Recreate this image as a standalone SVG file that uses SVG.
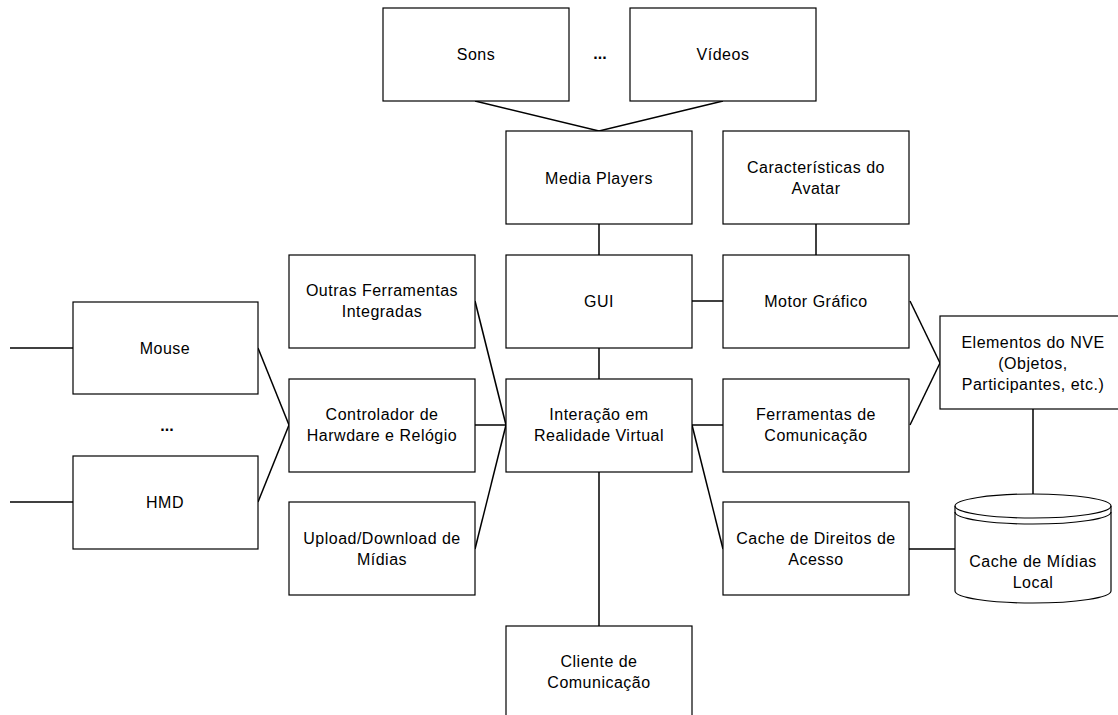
<svg xmlns="http://www.w3.org/2000/svg" width="1118" height="715" viewBox="0 0 1118 715">
  <style>
    .box { fill: #ffffff; stroke: #000000; stroke-width: 1.2; }
    .lbl { font-family: "Liberation Sans", Arial, sans-serif; font-size: 16px; letter-spacing: 0.5px; fill: #000000; text-anchor: middle; }
    .dots { font-family: "Liberation Sans", Arial, sans-serif; font-size: 16px; font-weight: bold; fill: #000000; text-anchor: middle; }
    .conn { fill: none; stroke: #000000; stroke-width: 1.5; }
  </style>
  <rect width="1118" height="715" fill="#ffffff"/>

  <!-- connectors -->
  <g id="connectors">
    <polyline class="conn" points="475,101 599,131 723,101"/>
    <line class="conn" x1="599" y1="224" x2="599" y2="255"/>
    <line class="conn" x1="816" y1="224" x2="816" y2="255"/>
    <line class="conn" x1="692" y1="301" x2="723" y2="301"/>
    <line class="conn" x1="599" y1="348" x2="599" y2="379"/>
    <line class="conn" x1="475" y1="301" x2="506" y2="425"/>
    <line class="conn" x1="475" y1="425" x2="506" y2="425"/>
    <line class="conn" x1="475" y1="549" x2="506" y2="425"/>
    <line class="conn" x1="258" y1="348" x2="289" y2="425"/>
    <line class="conn" x1="258" y1="502" x2="289" y2="425"/>
    <line class="conn" x1="10" y1="348" x2="73" y2="348"/>
    <line class="conn" x1="10" y1="502" x2="73" y2="502"/>
    <line class="conn" x1="692" y1="425" x2="723" y2="425"/>
    <line class="conn" x1="692" y1="425" x2="723" y2="549"/>
    <line class="conn" x1="599" y1="472" x2="599" y2="626"/>
    <line class="conn" x1="910" y1="301" x2="940" y2="363"/>
    <line class="conn" x1="910" y1="425" x2="940" y2="363"/>
    <line class="conn" x1="1033" y1="409" x2="1033" y2="494"/>
    <line class="conn" x1="909" y1="549" x2="955" y2="549"/>
  </g>

  <!-- top row: media types -->
  <g id="sons">
    <rect class="box" x="383" y="8" width="186" height="93"/>
    <text class="lbl" x="476" y="60">Sons</text>
  </g>
  <text class="dots" x="600" y="59">...</text>
  <g id="videos">
    <rect class="box" x="630" y="8" width="186" height="93"/>
    <text class="lbl" x="723" y="60">Vídeos</text>
  </g>

  <!-- second row -->
  <g id="media-players">
    <rect class="box" x="506" y="131" width="186" height="93"/>
    <text class="lbl" x="599" y="184">Media Players</text>
  </g>
  <g id="caracteristicas-avatar">
    <rect class="box" x="723" y="131" width="186" height="93"/>
    <text class="lbl" x="816" y="173">Características do</text>
    <text class="lbl" x="816" y="194">Avatar</text>
  </g>

  <!-- third row -->
  <g id="outras-ferramentas">
    <rect class="box" x="289" y="255" width="186" height="93"/>
    <text class="lbl" x="382" y="296">Outras Ferramentas</text>
    <text class="lbl" x="382" y="317">Integradas</text>
  </g>
  <g id="gui">
    <rect class="box" x="506" y="255" width="186" height="93"/>
    <text class="lbl" x="599" y="307">GUI</text>
  </g>
  <g id="motor-grafico">
    <rect class="box" x="723" y="255" width="186" height="93"/>
    <text class="lbl" x="816" y="307">Motor Gráfico</text>
  </g>

  <!-- input devices -->
  <g id="mouse">
    <rect class="box" x="73" y="302" width="185" height="92"/>
    <text class="lbl" x="165" y="354">Mouse</text>
  </g>
  <text class="dots" x="167" y="431">...</text>
  <g id="hmd">
    <rect class="box" x="73" y="456" width="185" height="93"/>
    <text class="lbl" x="165" y="508">HMD</text>
  </g>

  <!-- fourth row -->
  <g id="controlador-hardware">
    <rect class="box" x="289" y="379" width="186" height="93"/>
    <text class="lbl" x="382" y="420">Controlador de</text>
    <text class="lbl" x="382" y="441">Harwdare e Relógio</text>
  </g>
  <g id="interacao-rv">
    <rect class="box" x="506" y="379" width="186" height="93"/>
    <text class="lbl" x="599" y="420">Interação em</text>
    <text class="lbl" x="599" y="441">Realidade Virtual</text>
  </g>
  <g id="ferramentas-comunicacao">
    <rect class="box" x="723" y="379" width="186" height="93"/>
    <text class="lbl" x="816" y="420">Ferramentas de</text>
    <text class="lbl" x="816" y="441">Comunicação</text>
  </g>

  <!-- NVE elements -->
  <g id="elementos-nve">
    <rect class="box" x="940" y="316" width="186" height="93"/>
    <text class="lbl" x="1033" y="348">Elementos do NVE</text>
    <text class="lbl" x="1033" y="369">(Objetos,</text>
    <text class="lbl" x="1033" y="390">Participantes, etc.)</text>
  </g>

  <!-- fifth row -->
  <g id="upload-download">
    <rect class="box" x="289" y="502" width="186" height="93"/>
    <text class="lbl" x="382" y="544">Upload/Download de</text>
    <text class="lbl" x="382" y="565">Mídias</text>
  </g>
  <g id="cache-direitos">
    <rect class="box" x="723" y="502" width="186" height="93"/>
    <text class="lbl" x="816" y="544">Cache de Direitos de</text>
    <text class="lbl" x="816" y="565">Acesso</text>
  </g>

  <!-- local media cache (cylinder) -->
  <g id="cache-midias-local">
    <path class="box" d="M955,506 A78,12 0 0 1 1111,506 L1111,591 A78,12 0 0 1 955,591 Z"/>
    <path fill="none" stroke="#000" stroke-width="1.2" d="M955,506 A78,12 0 0 0 1111,506"/>
    <path fill="none" stroke="#000" stroke-width="1.2" d="M955,512 A78,12 0 0 0 1111,512"/>
    <text class="lbl" x="1033" y="567">Cache de Mídias</text>
    <text class="lbl" x="1033" y="588">Local</text>
  </g>

  <!-- bottom -->
  <g id="cliente-comunicacao">
    <rect class="box" x="506" y="626" width="186" height="93"/>
    <text class="lbl" x="599" y="667">Cliente de</text>
    <text class="lbl" x="599" y="688">Comunicação</text>
  </g>
</svg>
